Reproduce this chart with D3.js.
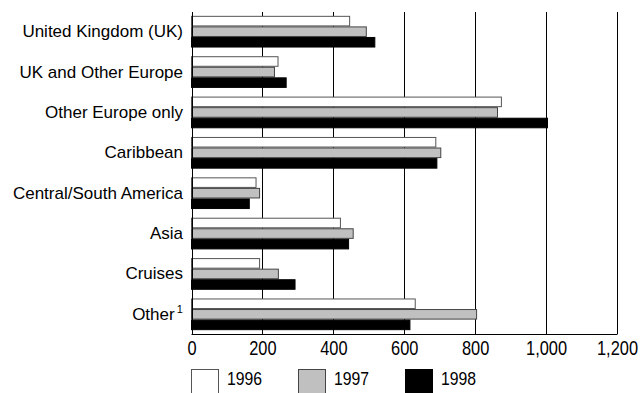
<!DOCTYPE html>
<html><head><meta charset="utf-8">
<script src="https://cdn.jsdelivr.net/npm/d3@7"></script>
<style>
html,body{margin:0;padding:0;background:#fff;overflow:hidden}
</style></head>
<body>
<svg id="chart" width="640" height="393"></svg>
<script>
const categories = ["United Kingdom (UK)", "UK and Other Europe", "Other Europe only", "Caribbean", "Central/South America", "Asia", "Cruises", "Other"];
const years = ["1996", "1997", "1998"];
const values1996 = [446, 244, 874, 689, 182, 420, 192, 631];
const values1997 = [493, 234, 863, 703, 192, 456, 245, 804];
const values1998 = [517, 267, 1004, 692, 163, 443, 292, 616];
const tickValues = [0, 200, 400, 600, 800, 1000, 1200];

const series = [values1996, values1997, values1998];
const fills = ["#ffffff", "#c0c0c0", "#000000"];
const strokes = ["#555555", "#444444", "#000000"];

const svg = d3.select("#chart");
const pLeft = 191.5, pRight = 617, pTop = 12, pBottom = 334;
const narrowFont = "'Liberation Sans', Arial, sans-serif";

const x = d3.scaleLinear().domain([0, 1200]).range([pLeft, pRight]);
const y = d3.scaleBand().domain(categories).range([pTop, pBottom]).paddingInner(0.215).paddingOuter(0.095);
const ySub = d3.scaleBand().domain(years).range([0, y.bandwidth()]).padding(0);

// gridlines
svg.append("g").selectAll("line").data(tickValues.slice(1)).join("line")
  .attr("x1", d => Math.round(x(d)) + 0.5).attr("x2", d => Math.round(x(d)) + 0.5)
  .attr("y1", pTop).attr("y2", pBottom)
  .attr("stroke", "#000").attr("stroke-width", 1);

// bars
const groups = svg.append("g").selectAll("g").data(categories).join("g")
  .attr("transform", d => `translate(0,${y(d)})`);
years.forEach((yr, si) => {
  groups.append("rect")
    .attr("x", x(0))
    .attr("y", (d) => ySub(yr) + 0.5)
    .attr("width", (d, i) => x(series[si][i]) - x(0))
    .attr("height", ySub.bandwidth() - 1)
    .attr("fill", fills[si])
    .attr("stroke", strokes[si])
    .attr("stroke-width", 1);
});

// axes lines
svg.append("line").attr("x1", Math.round(pLeft) + 0.5).attr("x2", Math.round(pLeft) + 0.5)
  .attr("y1", pTop).attr("y2", pBottom + 0.5).attr("stroke", "#000");
const xAxis = d3.axisBottom(x).tickValues(tickValues).tickSize(0).tickPadding(6)
  .tickFormat(d3.format(","));
const gx = svg.append("g").attr("transform", `translate(0,${pBottom + 0.5})`).call(xAxis);
gx.select(".domain").attr("stroke", "#000").attr("d", `M${pLeft},0H${pRight + 0.5}`);
gx.selectAll("text").attr("font-family", narrowFont)
  .attr("font-size", 20).attr("fill", "#000").attr("dy", "0.71em")
  .attr("transform", "scale(0.82,1)");

// category labels
const lab = svg.append("g").selectAll("text").data(categories).join("text")
  .attr("x", 183)
  .attr("y", d => y(d) + y.bandwidth() / 2)
  .attr("text-anchor", "end")
  .attr("dominant-baseline", "central")
  .attr("font-family", "'Liberation Sans', Arial, sans-serif")
  .attr("font-size", 17)
  .attr("fill", "#000");
lab.each(function(d) {
  const t = d3.select(this);
  if (d === "Other") {
    t.append("tspan").text("Other");
    t.append("tspan").text("\u20091").attr("font-size", 11).attr("dy", "-0.45em");
  } else t.text(d);
});

// legend
const legX = [191, 298, 405];
const leg = svg.append("g").selectAll("g").data(years).join("g")
  .attr("transform", (d, i) => `translate(${legX[i]},369.5)`);
leg.append("rect").attr("x", 0.5).attr("y", 0).attr("width", 27).attr("height", 28)
  .attr("fill", (d, i) => fills[i]).attr("stroke", (d, i) => strokes[i]);
leg.append("text").attr("transform", "translate(36,15.8) scale(0.83,1)")
  .attr("font-family", narrowFont)
  .attr("font-size", 19).attr("fill", "#000").text(d => d);
</script>
</body></html>
